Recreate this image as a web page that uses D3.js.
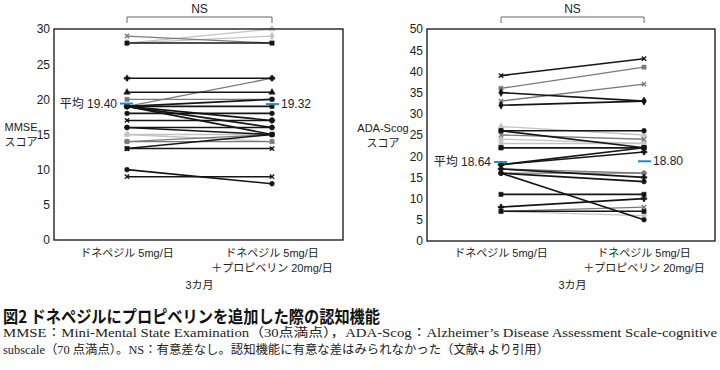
<!DOCTYPE html>
<html>
<head>
<meta charset="utf-8">
<script src="https://cdn.jsdelivr.net/npm/d3@7"></script>
<style>
    body { margin: 0; background: #fff; }
    svg { display: block; }
    .tick-label { font-family: "Liberation Sans", "Noto Sans CJK JP", sans-serif; font-size: 12px; fill: #222; }
    .jp { font-family: "Liberation Sans", "Noto Sans CJK JP", sans-serif; font-size: 11px; fill: #222; }
    .caption { font-family: "Liberation Serif", "Noto Sans CJK JP", serif; font-size: 12.5px; fill: #222; }
    .title { font-family: "Noto Sans CJK JP", sans-serif; font-weight: bold; font-size: 17px; fill: #111; }
</style>
</head>
<body>
<div id="chart"></div>
<script>
"use strict";

// x categories (same for both panels)
const categories = ["ドネペジル 5mg/日", "ドネペジル 5mg/日\n＋プロピベリン 20mg/日"];
const periodLabel = "3カ月";

// MMSE per subject: before / after
const mmseBefore = [29, 28, 28, 28, 23, 19, 21, 20, 19, 19, 19, 19, 18, 17, 16, 16, 15, 15, 14, 13, 13, 10, 9, 14, 19];
const mmseAfter  = [28, 28, 30, 29, 23, 23, 21, 20, 20, 19, 16, 15, 18, 17, 15, 16, 14, 15, 14, 15, 13, 8, 9, 15, 17];
const mmseTone   = ["g-x", "k-square", "l-triangle", "l-diamond", "k-plus", "g-circle", "k-triangle", "g-square", "k-circle", "k-square", "k-circle", "k-square", "k-circle", "k-x", "k-circle", "k-circle", "l-triangle", "l-circle", "g-square", "k-square", "k-x", "k-circle", "k-x", "g-circle", "k-plus"];
const mmseTicks  = [0, 5, 10, 15, 20, 25, 30];
const mmseMean   = [19.40, 19.32];

// ADA-Scog per subject: before / after
const adasBefore = [39, 36, 35, 33, 32, 27, 26, 25, 23, 22, 22, 18, 18, 17, 17, 16, 16, 16, 11, 8, 7, 7, 7, 26, 24];
const adasAfter  = [43, 41, 33, 37, 33, 25, 26, 24, 23, 22, 22, 22, 21, 16, 15, 14, 5, 16, 11, 10, 8, 7, 6, 22, 23];
const adasTone   = ["k-x", "g-square", "k-diamond", "g-x", "k-diamond", "l-triangle", "k-circle", "g-x", "l-square", "k-square", "k-square", "k-circle", "k-plus", "g-circle", "k-plus", "k-circle", "k-circle", "g-circle", "k-square", "k-plus", "g-x", "k-square", "l-square", "k-square", "l-circle"];
const adasTicks  = [0, 5, 10, 15, 20, 25, 30, 35, 40, 45, 50];
const adasMean   = [18.64, 18.80];

const titleText = "図2 ドネペジルにプロピベリンを追加した際の認知機能";
const captionLines = [
    "MMSE：Mini-Mental State Examination（30点満点），ADA-Scog：Alzheimer’s Disease Assessment Scale-cognitive",
    "subscale（70 点満点）。NS：有意差なし。認知機能に有意な差はみられなかった（文献4 より引用）"
];

const W = 720, H = 370;
const TONES = {k: "#151515", g: "#7a7a7a", l: "#c4c4c4"};
const SYMBOLS = {
    circle: d3.symbolCircle, square: d3.symbolSquare, triangle: d3.symbolTriangle,
    diamond: d3.symbolDiamond, plus: d3.symbolCross, x: d3.symbolX
};

const svg = d3.select("#chart").append("svg")
    .attr("width", W)
    .attr("height", H);
svg.append("rect").attr("width", W).attr("height", H).attr("fill", "#fff");

function drawPanel(opt) {
    const g = svg.append("g");
    const x = d3.scalePoint().domain(categories).range(opt.xRange);
    const y = d3.scaleLinear().domain([0, opt.max]).range([opt.bottom, opt.top]);
    const x0 = x(categories[0]), x1 = x(categories[1]);

    // y tick labels
    const yAxis = d3.axisLeft(y).tickValues(opt.ticks).tickSize(0).tickPadding(4);
    const ax = g.append("g")
        .attr("transform", `translate(${opt.frame[0]},0)`)
        .call(yAxis);
    ax.select(".domain").remove();
    ax.selectAll("text").attr("class", "tick-label").attr("fill", null);

    // subjects, light ones drawn first
    const rows = opt.before.map((b, i) => ({b: b, a: opt.after[i], tone: opt.tone[i]}));
    const order = rows.slice().sort((p, q) => "lgk".indexOf(p.tone[0]) - "lgk".indexOf(q.tone[0]));
    const line = d3.line();
    g.append("g").selectAll("path")
        .data(order)
        .join("path")
        .attr("d", d => line([[x0, y(d.b)], [x1, y(d.a)]]))
        .attr("fill", "none")
        .attr("stroke", d => TONES[d.tone[0]])
        .attr("stroke-width", d => d.tone[0] === "k" ? 1.6 : 1.3);

    const pts = [];
    order.forEach(d => {
        pts.push({cx: x0, v: d.b, tone: d.tone});
        pts.push({cx: x1, v: d.a, tone: d.tone});
    });
    g.append("g").selectAll("path")
        .data(pts)
        .join("path")
        .attr("transform", d => `translate(${d.cx},${y(d.v)})`)
        .attr("d", d => {
            const kind = d.tone.split("-")[1];
            return d3.symbol().type(SYMBOLS[kind]).size(kind === "x" ? 14 : 18)();
        })
        .attr("fill", d => d.tone.endsWith("-x") ? "none" : TONES[d.tone[0]])
        .attr("stroke", d => TONES[d.tone[0]])
        .attr("stroke-width", d => d.tone.endsWith("-x") ? 1.4 : 0.5);

    // frame
    g.append("rect")
        .attr("x", opt.frame[0]).attr("y", y(opt.max))
        .attr("width", opt.frame[1] - opt.frame[0])
        .attr("height", y(0) - y(opt.max))
        .attr("fill", "none")
        .attr("stroke", "#111")
        .attr("stroke-width", 1.3);

    // mean markers
    const blue = "#1f8dc8";
    g.append("line")
        .attr("x1", x0 - 7).attr("x2", x0 + 6)
        .attr("y1", y(opt.mean[0])).attr("y2", y(opt.mean[0]))
        .attr("stroke", blue).attr("stroke-width", 2);
    g.append("line")
        .attr("x1", x1 - 6).attr("x2", x1 + 7)
        .attr("y1", y(opt.mean[1])).attr("y2", y(opt.mean[1]))
        .attr("stroke", blue).attr("stroke-width", 2);
    g.append("text")
        .attr("class", "tick-label")
        .attr("x", x0 - 10).attr("y", y(opt.mean[0]) + 4)
        .attr("text-anchor", "end")
        .text("平均 " + opt.mean[0].toFixed(2));
    g.append("text")
        .attr("class", "tick-label")
        .attr("x", x1 + 9).attr("y", y(opt.mean[1]) + 4)
        .text(opt.mean[1].toFixed(2));

    // NS bracket
    const by = 17;
    g.append("path")
        .attr("d", `M${x0},${by + 6}V${by}H${x1}V${by + 6}`)
        .attr("fill", "none")
        .attr("stroke", "#666")
        .attr("stroke-width", 1);
    g.append("text")
        .attr("class", "tick-label")
        .attr("x", (x0 + x1) / 2).attr("y", 13)
        .attr("text-anchor", "middle")
        .text("NS");

    // y title
    opt.yTitle.forEach((t, i) => {
        g.append("text")
            .attr("class", "jp")
            .attr("x", opt.yTitleX).attr("y", opt.yTitleY + i * 15)
            .attr("text-anchor", "middle")
            .text(t);
    });

    // x category labels
    categories.forEach(c => {
        c.split("\n").forEach((t, i) => {
            g.append("text")
                .attr("class", "jp")
                .attr("x", x(c)).attr("y", 257 + i * 15)
                .attr("text-anchor", "middle")
                .text(t);
        });
    });
    g.append("text")
        .attr("class", "jp")
        .attr("x", (x0 + x1) / 2).attr("y", 289)
        .attr("text-anchor", "middle")
        .text(periodLabel);
}

drawPanel({
    before: mmseBefore, after: mmseAfter, tone: mmseTone, ticks: mmseTicks, mean: mmseMean,
    max: 30, top: 29, bottom: 240, xRange: [127, 272], frame: [54, 343],
    yTitle: ["MMSE", "スコア"], yTitleX: 21, yTitleY: 131
});
drawPanel({
    before: adasBefore, after: adasAfter, tone: adasTone, ticks: adasTicks, mean: adasMean,
    max: 50, top: 29, bottom: 241, xRange: [501, 644], frame: [427, 715],
    yTitle: ["ADA-Scog", "スコア"], yTitleX: 383, yTitleY: 132
});

// caption
svg.append("text")
    .attr("class", "title")
    .attr("x", 3).attr("y", 323)
    .attr("textLength", 377)
    .attr("lengthAdjust", "spacingAndGlyphs")
    .text(titleText);
svg.append("text")
    .attr("class", "caption")
    .attr("x", 3).attr("y", 337)
    .attr("textLength", 714)
    .attr("lengthAdjust", "spacingAndGlyphs")
    .text(captionLines[0]);
svg.append("text")
    .attr("class", "caption")
    .attr("x", 3).attr("y", 354)
    .attr("textLength", 546)
    .attr("lengthAdjust", "spacingAndGlyphs")
    .text(captionLines[1]);
</script>
</body>
</html>
